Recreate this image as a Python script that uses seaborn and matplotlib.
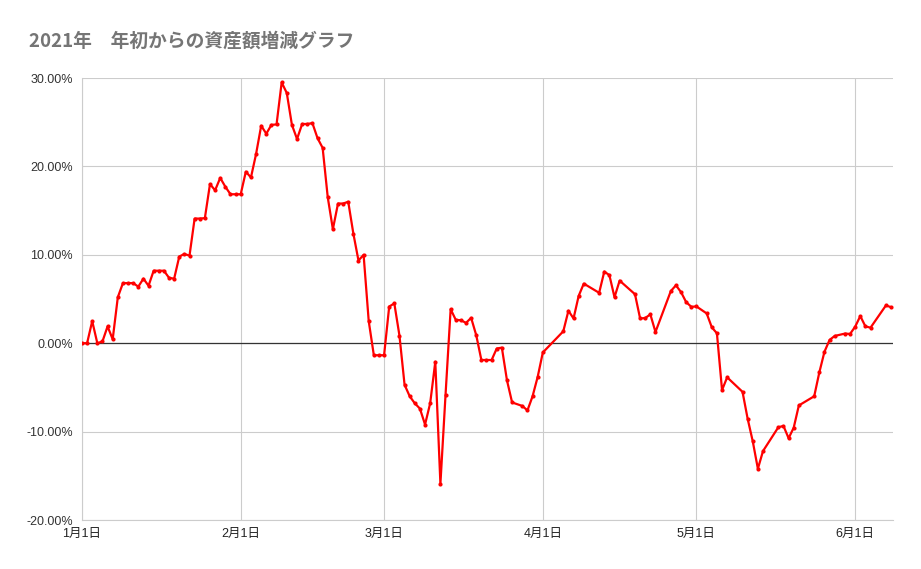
import matplotlib
matplotlib.use("Agg")
import matplotlib.pyplot as plt
import matplotlib.dates as mdates
import matplotlib.ticker as mticker
import numpy as np
import pandas as pd
import seaborn as sns

TITLE = "2021年\u3000年初からの資産額増減グラフ"

# trading days (month-day), 2021
jan_days = list(range(1, 32))
feb_days = list(range(1, 29))
mar_days = list(range(1, 27)) + [28, 29, 30, 31]
apr_days = [1, 5, 6, 7, 8, 9, 12, 13, 14, 15, 16, 19, 20, 21, 22, 23,
            26, 27, 28, 29, 30]
may_days = [1, 3, 4, 5, 6, 7, 10, 11, 12, 13, 14, 17, 18, 19, 20, 21,
            24, 25, 26, 27, 28, 30, 31]
jun_days = [1, 2, 3, 4, 7, 8]

# change from start of year (%)
jan_vals = [0.0, 0.0, 2.5, 0.0, 0.2, 1.9, 0.45, 5.2, 6.8, 6.8, 6.8, 6.4,
            7.3, 6.5, 8.2, 8.2, 8.2, 7.4, 7.3, 9.8, 10.1, 9.9, 14.1, 14.1,
            14.15, 18.0, 17.3, 18.7, 17.7, 16.85, 16.85]
feb_vals = [16.85, 19.4, 18.75, 21.4, 24.6, 23.7, 24.7, 24.75, 29.5, 28.3,
            24.7, 23.1, 24.8, 24.8, 24.9, 23.2, 22.1, 16.5, 12.9, 15.8,
            15.8, 16.0, 12.4, 9.35, 10.0, 2.5, -1.36, -1.36]
mar_vals = [-1.36, 4.15, 4.5, 0.87, -4.7, -6.0, -6.8, -7.4, -9.2, -6.8,
            -2.1, -15.9, -5.85, 3.85, 2.64, 2.6, 2.3, 2.87, 0.9, -1.9,
            -1.9, -1.9, -0.6, -0.5, -4.2, -6.7, -7.1, -7.6, -6.0, -3.8]
apr_vals = [-1.05, 1.35, 3.67, 2.8, 5.35, 6.74, 5.7, 8.1, 7.7, 5.2, 7.08,
            5.54, 2.8, 2.85, 3.26, 1.27, 5.9, 6.55, 5.77, 4.64, 4.12]
may_vals = [4.16, 3.37, 1.8, 1.12, -5.3, -3.86, -5.5, -8.54, -11.1, -14.2,
            -12.2, -9.5, -9.36, -10.75, -9.55, -7.04, -6.0, -3.3, -0.97,
            0.37, 0.82, 1.09, 1.05]
jun_vals = [1.87, 3.07, 1.9, 1.76, 4.27, 4.08]

dates = []
for m, days in enumerate([jan_days, feb_days, mar_days, apr_days, may_days, jun_days], 1):
    dates += [pd.Timestamp(2021, m, d) for d in days]
values = jan_vals + feb_vals + mar_vals + apr_vals + may_vals + jun_vals

df = pd.DataFrame({"date": dates, "change": np.array(values) / 100})

sns.set_theme(style="whitegrid")
plt.rcParams["font.family"] = ["Liberation Sans", "Noto Sans CJK JP"]
plt.rcParams["axes.unicode_minus"] = False

fig = plt.figure(figsize=(9.21, 5.69), dpi=100)
ax = fig.add_axes([0.089, 0.0861, 0.8803, 0.7768])

ax.axhline(0, color="#333333", lw=0.9, zorder=2)
sns.lineplot(data=df, x="date", y="change", ax=ax, color="#ff0000",
             lw=1.6, marker="o", markersize=3, markeredgewidth=0, zorder=3)

ax.set_xlim(pd.Timestamp(2021, 1, 1), pd.Timestamp(2021, 6, 8, 8))
ax.set_ylim(-0.2, 0.3)
ax.yaxis.set_major_locator(mticker.MultipleLocator(0.1))
ax.yaxis.set_major_formatter(mticker.PercentFormatter(1.0, decimals=2))
ax.xaxis.set_major_locator(mdates.MonthLocator())
ax.xaxis.set_major_formatter(
    mticker.FuncFormatter(lambda x, _: f"{mdates.num2date(x).month}月1日"))

ax.grid(color="#cccccc", lw=0.8)
for s in ["top", "right"]:
    ax.spines[s].set_visible(False)
for s in ["left", "bottom"]:
    ax.spines[s].set_color("#cccccc")
    ax.spines[s].set_linewidth(0.8)
ax.tick_params(axis="y", length=0, pad=6.5, labelsize=9, labelcolor="#333333")
ax.tick_params(axis="x", length=0, pad=6, labelsize=9, labelcolor="#222222")
ax.set_xlabel("")
ax.set_ylabel("")

fig.text(0.031, 0.928, TITLE, fontsize=13.5, fontweight="bold", color="#757575",
         va="center", ha="left", family=["Noto Sans CJK JP", "DejaVu Sans"])

fig.savefig("out.png", dpi=100)
